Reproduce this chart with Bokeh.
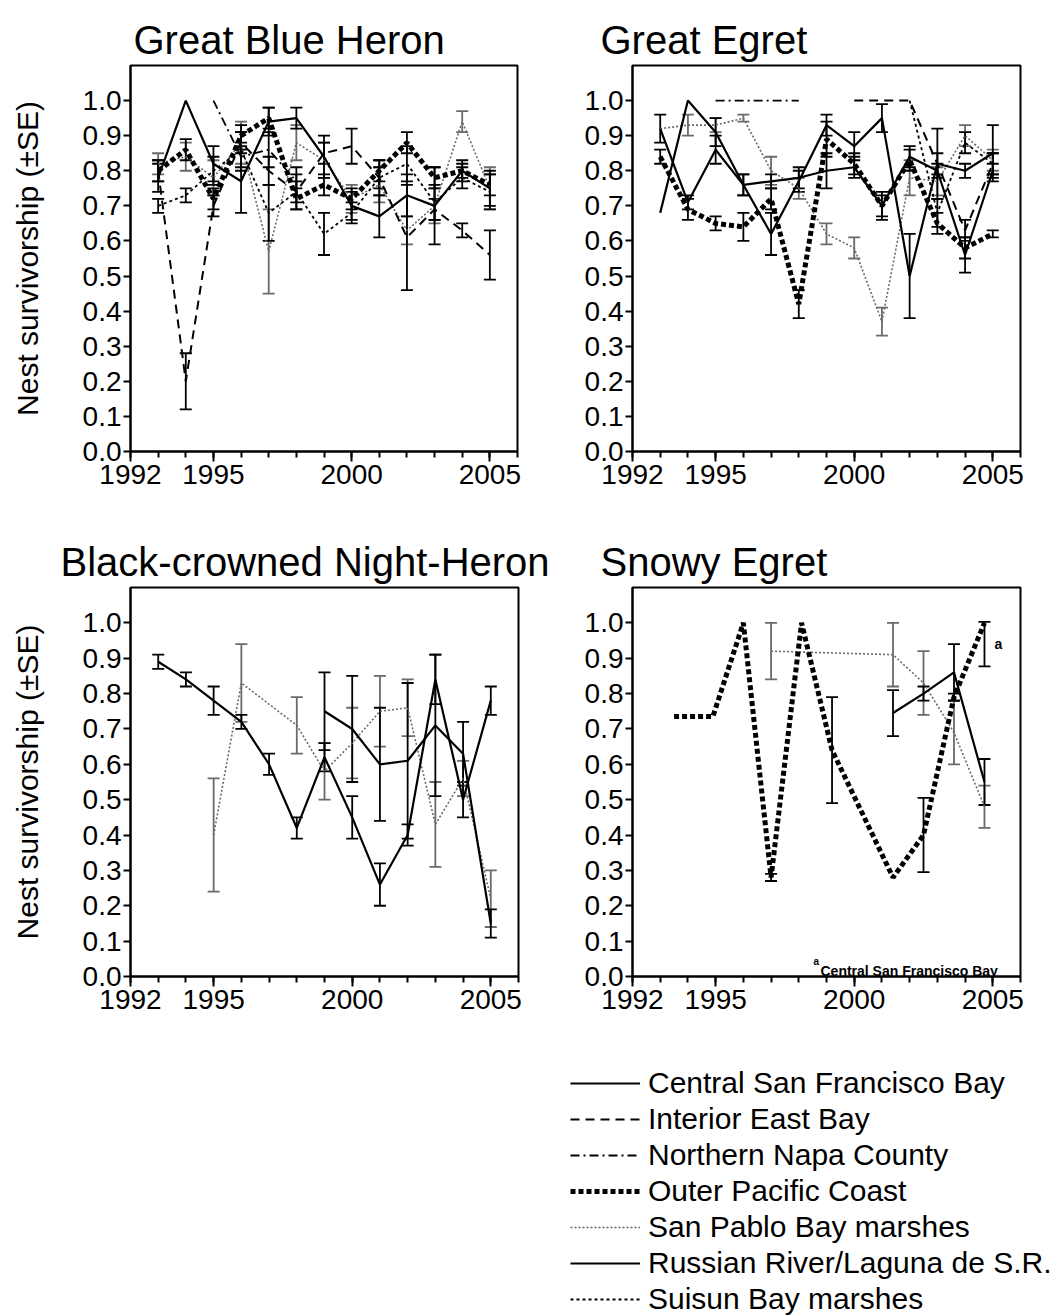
import numpy as np
from bokeh.plotting import figure
from bokeh.models import (Range1d, FixedTicker, ColumnDataSource, Whisker, TeeHead,
                          Legend, LegendItem, Label, Spacer, PrintfTickFormatter)
from bokeh.layouts import column, row
from bokeh.embed import file_html
from bokeh.resources import INLINE
from bokeh.core.properties import value

FONT = "Liberation Sans"

# ---------------- data ----------------
years = [1993, 1994, 1995, 1996, 1997, 1998, 1999, 2000, 2001, 2002, 2003, 2004, 2005]

# Great Blue Heron
gbh_central = [0.78, 1.00, 0.82, 0.77, 0.94, 0.95, 0.84, 0.70, 0.67, 0.73, 0.70, 0.80, 0.75]
gbh_central_se = [0.04, 0.00, 0.05, 0.09, 0.04, 0.03, 0.06, 0.04, 0.06, 0.06, 0.11, 0.03, 0.05]
gbh_interior = [0.80, 0.20, 0.70, 0.88, 0.80, 0.74, 0.85, 0.87, 0.78, 0.61, 0.69, 0.63, 0.56]
gbh_interior_se = [0.03, 0.08, 0.03, 0.03, 0.04, 0.03, 0.03, 0.05, 0.03, 0.15, 0.03, 0.02, 0.07]
gbh_napa_years = [1995, 1996, 1997, 1998]
gbh_napa = [1.00, 0.84, 0.86, 0.77]
gbh_napa_se = [0.00, 0.04, 0.05, 0.04]
gbh_outer = [0.80, 0.86, 0.72, 0.90, 0.95, 0.72, 0.76, 0.72, 0.80, 0.88, 0.78, 0.80, 0.76]
gbh_outer_se = [0.03, 0.03, 0.03, 0.03, 0.03, 0.03, 0.03, 0.03, 0.03, 0.03, 0.03, 0.02, 0.03]
gbh_sanpablo = [0.82, 0.84, 0.78, 0.88, 0.57, 0.88, 0.83, 0.72, 0.76, 0.63, 0.70, 0.94, 0.75]
gbh_sanpablo_se = [0.03, 0.04, 0.05, 0.06, 0.12, 0.05, 0.05, 0.04, 0.05, 0.04, 0.05, 0.03, 0.06]
gbh_suisun = [0.70, 0.73, 0.80, 0.86, 0.68, 0.74, 0.62, 0.68, 0.78, 0.82, 0.71, 0.78, 0.74]
gbh_suisun_se = [0.02, 0.02, 0.04, 0.05, 0.08, 0.05, 0.06, 0.03, 0.05, 0.05, 0.05, 0.03, 0.05]

# Great Egret
ge_central = [0.92, 0.71, 0.86, 0.76, 0.62, 0.77, 0.93, 0.87, 0.95, 0.50, 0.82, 0.80, 0.85]
ge_central_se = [0.04, 0.02, 0.04, 0.03, 0.06, 0.03, 0.03, 0.04, 0.04, 0.12, 0.10, 0.02, 0.08]
ge_russian = [0.68, 1.00, 0.91, 0.76, 0.77, 0.78, 0.80, 0.81, 0.70, 0.84, 0.80, 0.56, 0.80]
ge_russian_se = [0.00, 0.00, 0.04, 0.03, 0.02, 0.03, 0.05, 0.03, 0.04, 0.03, 0.02, 0.05, 0.02]
ge_outer = [0.84, 0.69, 0.65, 0.64, 0.72, 0.42, 0.89, 0.82, 0.70, 0.83, 0.65, 0.58, 0.62]
ge_outer_se = [0.02, 0.03, 0.02, 0.04, 0.03, 0.04, 0.05, 0.03, 0.03, 0.03, 0.03, 0.03, 0.01]
ge_sanpablo = [0.92, 0.93, 0.93, 0.95, 0.80, 0.75, 0.62, 0.58, 0.37, 0.78, 0.77, 0.90, 0.83]
ge_sanpablo_se = [0.00, 0.03, 0.02, 0.01, 0.04, 0.03, 0.03, 0.03, 0.04, 0.05, 0.04, 0.03, 0.03]
ge_napa_years = [1995, 1996, 1997, 1998]
ge_napa = [1.00, 1.00, 1.00, 1.00]
ge_napa_se = [0.0, 0.0, 0.0, 0.0]
ge_interior_years = [2000, 2001, 2002, 2003, 2004, 2005]
ge_interior = [1.00, 1.00, 1.00, 0.82, 0.63, 0.82]
ge_interior_se = [0.0, 0.0, 0.0, 0.03, 0.03, 0.03]
ge_suisun_years = [2002, 2003, 2004, 2005]
ge_suisun = [1.00, 0.68, 0.88, 0.82]
ge_suisun_se = [0.0, 0.04, 0.03, 0.03]

# Black-crowned Night-Heron
bc_central = [0.89, 0.84, 0.78, 0.72, 0.60, 0.42, 0.62, 0.45, 0.26, 0.40, 0.84, 0.50, 0.78]
bc_central_se = [0.02, 0.02, 0.04, 0.02, 0.03, 0.03, 0.04, 0.06, 0.06, 0.03, 0.07, 0.05, 0.04]
bc_russian_years = [1999, 2000, 2001, 2002, 2003, 2004, 2005]
bc_russian = [0.75, 0.70, 0.60, 0.61, 0.71, 0.63, 0.15]
bc_russian_se = [0.11, 0.15, 0.16, 0.22, 0.20, 0.09, 0.04]
bc_sanpablo_years = [1995, 1996, 1998, 1999, 2000, 2001, 2002, 2003, 2004, 2005]
bc_sanpablo = [0.40, 0.83, 0.71, 0.58, 0.66, 0.75, 0.76, 0.43, 0.56, 0.22]
bc_sanpablo_se = [0.16, 0.11, 0.08, 0.08, 0.10, 0.10, 0.08, 0.12, 0.05, 0.08]

# Snowy Egret
sn_outer_years = [1993.5, 1994.9, 1996.0, 1997.0, 1998.1, 1999.2, 2001.4, 2002.5, 2003.6, 2004.7]
sn_outer = [0.735, 0.735, 1.00, 0.28, 1.00, 0.64, 0.28, 0.40, 0.79, 1.00]
sn_outer_se = [0.0, 0.0, 0.0, 0.01, 0.0, 0.15, 0.0, 0.105, 0.01, 0.0]
sn_sanpablo_years = [1997.0, 2001.4, 2002.5, 2003.6, 2004.7]
sn_sanpablo = [0.92, 0.91, 0.83, 0.69, 0.48]
sn_sanpablo_se = [0.08, 0.09, 0.09, 0.09, 0.06]
sn_russian_years = [2001.4, 2002.5, 2003.6, 2004.7]
sn_russian = [0.745, 0.80, 0.86, 0.55]
sn_russian_se = [0.065, 0.02, 0.08, 0.065]
sn_central_years = [2004.7]
sn_central = [0.94]
sn_central_se = [0.063]

x_major_ticks = [1992, 1995, 2000, 2005]
x_minor_ticks = list(range(1992, 2007))
y_ticks = [0.0, 0.1, 0.2, 0.3, 0.4, 0.5, 0.6, 0.7, 0.8, 0.9, 1.0]

legend_keys = ["central", "interior", "napa", "outer", "sanpablo", "russian", "suisun"]
legend_labels = ["Central San Francisco Bay", "Interior East Bay", "Northern Napa County",
                 "Outer Pacific Coast", "San Pablo Bay marshes", "Russian River/Laguna de S.R.",
                 "Suisun Bay marshes"]

# ---------------- styles ----------------
STYLES = {
    "central": dict(color="black", width=2.2, dash="solid"),
    "interior": dict(color="black", width=2.0, dash="9 6"),
    "napa": dict(color="black", width=1.8, dash="9 4 2 4"),
    "outer": dict(color="black", width=5.0, dash="5 3"),
    "sanpablo": dict(color="#6a6a6a", width=1.6, dash="2 2"),
    "russian": dict(color="black", width=2.2, dash="solid"),
    "suisun": dict(color="black", width=1.8, dash="3 3"),
}


def make_panel(title, w, h, bl, bt, br, bb, title_offset, ylabel):
    p = figure(width=w, height=h, x_range=Range1d(1992, 2006), y_range=Range1d(0, 1.1),
               output_backend="svg", toolbar_location=None,
               min_border_left=bl, min_border_top=bt, min_border_right=br, min_border_bottom=bb)
    p.grid.visible = False
    p.outline_line_color = "black"
    p.outline_line_width = 2
    p.background_fill_color = "white"
    p.border_fill_color = "white"
    p.title.text = title
    p.title.align = "left"
    p.title.offset = title_offset
    p.title.text_font = FONT
    p.title.text_font_size = "40px"
    p.title.text_font_style = "normal"
    p.title.text_color = "black"
    p.title.standoff = 8

    xa = p.xaxis[0]
    xa.ticker = FixedTicker(ticks=x_major_ticks, minor_ticks=x_minor_ticks)
    xa.major_label_text_font = FONT
    xa.major_label_text_font_size = "28px"
    xa.major_label_text_color = "black"
    xa.major_tick_out = 10
    xa.major_tick_in = 0
    xa.minor_tick_out = 6
    xa.minor_tick_in = 0
    xa.axis_line_width = 2
    xa.major_tick_line_width = 2
    xa.minor_tick_line_width = 2
    xa.major_label_standoff = 3

    ya = p.yaxis[0]
    ya.ticker = FixedTicker(ticks=y_ticks)
    ya.formatter = PrintfTickFormatter(format="%.1f")
    ya.major_label_text_font = FONT
    ya.major_label_text_font_size = "28px"
    ya.major_label_text_color = "black"
    ya.major_tick_out = 7
    ya.major_tick_in = 0
    ya.minor_tick_line_color = None
    ya.axis_line_width = 2
    ya.major_tick_line_width = 2
    ya.major_label_standoff = 2
    if ylabel:
        ya.axis_label = ylabel
        ya.axis_label_text_font = FONT
        ya.axis_label_text_font_size = "30px"
        ya.axis_label_text_font_style = "normal"
        ya.axis_label_text_color = "black"
        ya.axis_label_standoff = 36
    return p


def add_series(p, xs, vals, se, key):
    st = STYLES[key]
    p.line(xs, vals, line_color=st["color"], line_width=st["width"], line_dash=st["dash"],
           line_cap="butt")
    idx = [i for i, s in enumerate(se) if s > 0]
    if not idx:
        return
    src = ColumnDataSource(dict(
        x=[xs[i] for i in idx],
        lo=[vals[i] - se[i] for i in idx],
        hi=[vals[i] + se[i] for i in idx],
    ))
    col = st["color"]
    w = Whisker(source=src, base="x", lower="lo", upper="hi", line_color=col, line_width=1.8,
                upper_head=TeeHead(size=12, line_width=1.8, line_color=col),
                lower_head=TeeHead(size=12, line_width=1.8, line_color=col))
    p.add_layout(w)


YLAB = "Nest survivorship (\u00b1SE)"

# frames: A 130..517 x 62..451 ; B 632..1020 x 65..454 ; C 130..518 x 587..976 ; D 632..1020 x 585..976
pA = make_panel("Great Blue Heron", 532, 507, 130, 62, 15, 56, 3, YLAB)
add_series(pA, years, gbh_sanpablo, gbh_sanpablo_se, "sanpablo")
add_series(pA, years, gbh_suisun, gbh_suisun_se, "suisun")
add_series(pA, gbh_napa_years, gbh_napa, gbh_napa_se, "napa")
add_series(pA, years, gbh_interior, gbh_interior_se, "interior")
add_series(pA, years, gbh_outer, gbh_outer_se, "outer")
add_series(pA, years, gbh_central, gbh_central_se, "central")

pB = make_panel("Great Egret", 498, 507, 100, 65, 10, 53, -32, None)
add_series(pB, years, ge_sanpablo, ge_sanpablo_se, "sanpablo")
add_series(pB, ge_suisun_years, ge_suisun, ge_suisun_se, "suisun")
add_series(pB, ge_napa_years, ge_napa, ge_napa_se, "napa")
add_series(pB, ge_interior_years, ge_interior, ge_interior_se, "interior")
add_series(pB, years, ge_outer, ge_outer_se, "outer")
add_series(pB, years, ge_russian, ge_russian_se, "russian")
add_series(pB, years, ge_central, ge_central_se, "central")

pC = make_panel("Black-crowned Night-Heron", 570, 525, 130, 80, 52, 56, -70, YLAB)
add_series(pC, bc_sanpablo_years, bc_sanpablo, bc_sanpablo_se, "sanpablo")
add_series(pC, bc_russian_years, bc_russian, bc_russian_se, "russian")
add_series(pC, years, bc_central, bc_central_se, "central")

pD = make_panel("Snowy Egret", 460, 525, 62, 78, 10, 56, -32, None)
add_series(pD, sn_sanpablo_years, sn_sanpablo, sn_sanpablo_se, "sanpablo")
add_series(pD, sn_outer_years, sn_outer, sn_outer_se, "outer")
add_series(pD, sn_russian_years, sn_russian, sn_russian_se, "russian")
add_series(pD, sn_central_years, sn_central, sn_central_se, "central")
pD.text(x=sn_central_years, y=sn_central, text=["a"], x_offset=10,
        text_font=value(FONT), text_font_size="14px", text_font_style="bold",
        text_baseline="middle", text_align="left", text_color="black")
pD.add_layout(Label(x=188, y=6, x_units="screen", y_units="screen",
                    text="Central San Francisco Bay", text_font=FONT, text_font_size="14px",
                    text_font_style="bold", text_align="left", text_baseline="alphabetic",
                    text_color="black"))
pD.add_layout(Label(x=181, y=15, x_units="screen", y_units="screen",
                    text="a", text_font=FONT, text_font_size="10px",
                    text_font_style="bold", text_align="left", text_baseline="alphabetic",
                    text_color="black"))

# ---------------- legend figure ----------------
lg = figure(width=490, height=249, output_backend="svg", toolbar_location=None,
            x_range=Range1d(0, 1), y_range=Range1d(0, 1), min_border=0,
            x_axis_location=None, y_axis_location=None)
lg.grid.visible = False
lg.outline_line_color = None
items = []
for key, lab in zip(legend_keys, legend_labels):
    st = STYLES[key]
    # placeholder renderer outside the visible range: only its legend sample is seen
    r = lg.line(x=[5, 6], y=[5, 5], line_color=st["color"], line_width=st["width"],
                line_dash=st["dash"], line_cap="butt")
    items.append(LegendItem(label=lab, renderers=[r]))
legend = Legend(items=items, location="top_left", margin=0, padding=0,
                border_line_color=None, background_fill_alpha=0,
                glyph_width=70, glyph_height=30, label_height=30, label_standoff=8,
                spacing=2, label_text_font=FONT, label_text_font_size="30px",
                label_text_color="black")
lg.add_layout(legend)

layout = column(row(pA, pB), row(pC, pD),
                row(Spacer(width=570, height=283), column(Spacer(width=490, height=34), lg)))

with open("out.html", "w") as f:
    f.write(file_html(layout, INLINE))
